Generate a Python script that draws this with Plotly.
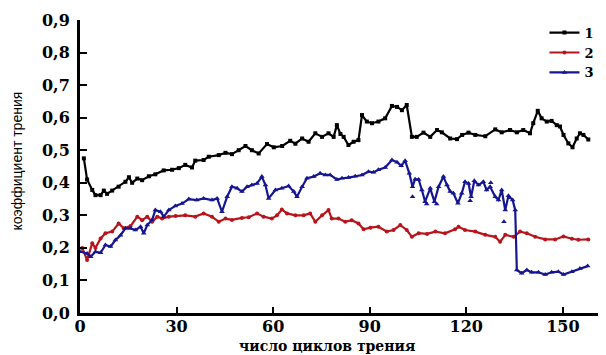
import plotly.graph_objects as go

# ---- data ----
black_x = [1.2, 2.2, 3.8, 4.8, 6.4, 7.4, 8.4, 10, 12, 14.1, 15.2, 16.2, 17.8, 19.3, 21.4, 23.4, 26, 28.6,
           30.7, 32.7, 34.8, 35.8, 38.4, 40, 43.1, 45.2, 47.2, 49.3, 51.4, 53.4, 55.5, 58.1, 60.2, 62.8,
           65.3, 66.9, 69, 71, 73.1, 75.2, 77.2, 78.8, 79.8, 80.9, 81.9, 83.4, 85, 86.5, 87.6, 89.1, 90.7,
           92.7, 94.8, 96.9, 98.5, 100, 101.5, 103.1, 104.6, 106.7, 108.8, 110.9, 112.4, 115, 117.1, 118.7,
           120.7, 122.8, 125.9, 129, 131, 133.6, 135.7, 137.7, 139.8, 140.8, 142.2, 143.4, 145, 146.5,
           148.1, 149.1, 150.2, 151.7, 153, 154.3, 155.3, 156.4, 157.9]
black_y = [0.475, 0.41, 0.378, 0.362, 0.362, 0.376, 0.366, 0.376, 0.388, 0.403, 0.417, 0.40, 0.413, 0.408,
           0.42, 0.426, 0.438, 0.44, 0.445, 0.455, 0.447, 0.468, 0.47, 0.48, 0.485, 0.492, 0.488, 0.50,
           0.513, 0.50, 0.49, 0.519, 0.509, 0.513, 0.529, 0.52, 0.536, 0.526, 0.552, 0.541, 0.552, 0.541,
           0.577, 0.55, 0.541, 0.516, 0.526, 0.531, 0.608, 0.588, 0.583, 0.588, 0.598, 0.636, 0.633, 0.623,
           0.639, 0.541, 0.541, 0.554, 0.541, 0.562, 0.555, 0.536, 0.534, 0.547, 0.554, 0.547, 0.543,
           0.564, 0.555, 0.562, 0.555, 0.562, 0.552, 0.583, 0.621, 0.598, 0.588, 0.59, 0.577, 0.573,
           0.547, 0.521, 0.509, 0.536, 0.552, 0.547, 0.533]

red_x = [0.7, 2.2, 3.8, 4.8, 6.4, 7.9, 10, 12, 13.6, 15.7, 17.8, 19.3, 20.9, 22.4, 24, 25.5, 27.6, 29.7,
         32.7, 35.8, 38.4, 41, 43.1, 45.2, 47.2, 50.3, 52.4, 55, 57, 59.6, 61.2, 62.7, 64.3, 66.9, 69.5,
         71.5, 73.1, 75.2, 77.2, 78.2, 80.3, 82.4, 84.4, 86.5, 88.1, 90.2, 92.7, 95.3, 97.4, 99.5, 101.5,
         103.1, 105.2, 107.8, 110.4, 113.4, 116.5, 117.6, 119.6, 122.8, 125.9, 129, 130.5, 132.1, 134.7,
         136.7, 138.8, 141.4, 144.5, 147.6, 150.2, 152.8, 154.8, 157.9]
red_y = [0.20, 0.163, 0.214, 0.20, 0.229, 0.245, 0.25, 0.275, 0.26, 0.267, 0.296, 0.285, 0.296, 0.28,
         0.296, 0.29, 0.296, 0.298, 0.30, 0.296, 0.306, 0.296, 0.28, 0.29, 0.286, 0.292, 0.294, 0.306,
         0.296, 0.29, 0.30, 0.318, 0.306, 0.30, 0.30, 0.306, 0.28, 0.30, 0.316, 0.29, 0.29, 0.28, 0.285,
         0.275, 0.257, 0.262, 0.265, 0.25, 0.255, 0.27, 0.255, 0.234, 0.245, 0.243, 0.25, 0.245, 0.257,
         0.265, 0.255, 0.25, 0.24, 0.234, 0.219, 0.24, 0.234, 0.25, 0.245, 0.234, 0.226, 0.226, 0.235,
         0.228, 0.225, 0.226]

blue_x = [0.2, 2.2, 3.3, 4.8, 6.4, 7.9, 9.5, 11, 12.6, 14.1, 15.7, 17.2, 18.8, 19.8, 20.9, 22.4, 23.4, 25,
          26, 27.6, 29.6, 31.7, 33.8, 36.3, 38.4, 41, 42.6, 44.1, 45.7, 47.2, 48.8, 50.3, 51.9, 53.4, 55,
          56.5, 57.6, 58.6, 60.7, 62.7, 64.8, 66.4, 67.4, 69, 70.5, 72.6, 74.6, 76.2, 77.7, 79.8, 81.4,
          83.4, 85.5, 87.6, 89.6, 91.2, 92.7, 94.8, 96.9, 98.5, 99.8, 101, 102.3, 103.3, 104.1, 105.2,
          106.2, 107.2, 108.8, 110.1, 111.4, 112.9, 114, 115, 116, 117.4, 118.6, 119.6, 120.7, 121.5,
          122.5, 123.8, 125.3, 126.3, 127.4, 129, 130, 131, 132.1, 133.1, 134.4, 135.2, 135.7, 137.2,
          138.8, 140.3, 142.4, 144.5, 146.5, 148.6, 150.2, 152.8, 155.3, 157.7]
blue_y = [0.188, 0.183, 0.173, 0.188, 0.185, 0.209, 0.204, 0.224, 0.239, 0.26, 0.26, 0.255, 0.265, 0.245,
          0.27, 0.286, 0.316, 0.311, 0.296, 0.316, 0.329, 0.336, 0.35, 0.347, 0.352, 0.347, 0.352, 0.311,
          0.357, 0.388, 0.383, 0.373, 0.388, 0.393, 0.398, 0.419, 0.393, 0.352, 0.378, 0.383, 0.39, 0.373,
          0.357, 0.388, 0.414, 0.419, 0.429, 0.424, 0.424, 0.41, 0.414, 0.416, 0.42, 0.424, 0.434, 0.432,
          0.44, 0.447, 0.47, 0.463, 0.452, 0.468, 0.429, 0.388, 0.411, 0.41, 0.378, 0.342, 0.383, 0.342,
          0.388, 0.419, 0.393, 0.373, 0.368, 0.337, 0.368, 0.403, 0.398, 0.357, 0.406, 0.393, 0.403,
          0.378, 0.388, 0.357, 0.347, 0.378, 0.316, 0.36, 0.347, 0.316, 0.132, 0.122, 0.132, 0.125, 0.125,
          0.118, 0.125, 0.127, 0.118, 0.127, 0.137, 0.144]

# isolated triangles of series 3
blue_extra_x = [103.3, 107.7, 110.8, 121.2, 127.6, 131.7]
blue_extra_y = [0.357, 0.335, 0.335, 0.345, 0.40, 0.28]

series_names = ["1", "2", "3"]
x_ticks = [0, 30, 60, 90, 120, 150]
y_ticks = [0.0, 0.1, 0.2, 0.3, 0.4, 0.5, 0.6, 0.7, 0.8, 0.9]

BLACK = "#000000"
RED = "#b8141c"
BLUE = "#161690"

fig = go.Figure()
fig.add_trace(go.Scatter(x=black_x, y=black_y, name=series_names[0], mode="lines+markers",
                         line=dict(color=BLACK, width=2.2),
                         marker=dict(symbol="square", size=4, color=BLACK)))
fig.add_trace(go.Scatter(x=red_x, y=red_y, name=series_names[1], mode="lines+markers",
                         line=dict(color=RED, width=2.2),
                         marker=dict(symbol="circle", size=4, color=RED)))
fig.add_trace(go.Scatter(x=blue_x, y=blue_y, name=series_names[2], mode="lines+markers",
                         line=dict(color=BLUE, width=2.2),
                         marker=dict(symbol="triangle-up", size=5, color=BLUE)))
fig.add_trace(go.Scatter(x=blue_extra_x, y=blue_extra_y, mode="markers", showlegend=False,
                         marker=dict(symbol="triangle-up", size=5, color=BLUE)))

serif = "DejaVu Serif"

# the page body adds an 8px offset, so the figure is sized to fit the window
fig.update_layout(
    width=598, height=347,
    margin=dict(l=72, r=0, t=12, b=42, autoexpand=False),
    paper_bgcolor="white", plot_bgcolor="white",
    separators=", ",
    font=dict(family=serif, size=15, color="black"),
    showlegend=True,
    legend=dict(x=0.883, y=1.008, xanchor="left", yanchor="top",
                bgcolor="rgba(0,0,0,0)",
                font=dict(family=serif, size=13, color="black", weight="bold"),
                itemwidth=30, tracegroupgap=0),
    xaxis=dict(range=[0, 163.4], tickvals=x_ticks, ticktext=[str(v) for v in x_ticks],
               automargin=False,
               showgrid=False, zeroline=False, showline=True, linecolor="black", linewidth=3,
               ticks="inside", ticklen=6, tickwidth=2, tickcolor="black",
               ticklabelstandoff=-3,
               tickfont=dict(family=serif, size=16, color="black", weight="bold")),
    yaxis=dict(range=[0, 0.9], tickvals=y_ticks, tickformat=".1f",
               automargin=False,
               showgrid=False, zeroline=False, showline=True, linecolor="black", linewidth=3,
               ticks="inside", ticklen=7, tickwidth=2, tickcolor="black",
               ticklabelstandoff=4,
               tickfont=dict(family=serif, size=16, color="black", weight="bold")),
    annotations=[
        dict(text="коэффициент трения", textangle=-90, xref="paper", yref="paper",
             x=-0.12, y=0.52, xanchor="center", yanchor="middle", showarrow=False,
             font=dict(family="Liberation Sans", size=14, color="black")),
        dict(text="<b>число циклов трения</b>", xref="paper", yref="paper",
             x=0.47, y=-0.112, xanchor="center", yanchor="middle", showarrow=False,
             font=dict(family=serif, size=14, color="black")),
    ],
)

fig.write_html("out.html")
